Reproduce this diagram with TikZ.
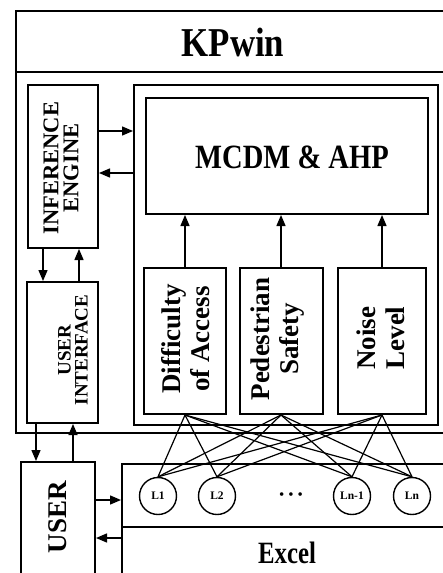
\documentclass[tikz,border=0pt]{standalone}
\usepackage{fontspec}
\setmainfont{Liberation Serif}
\usepackage{graphicx}
\usetikzlibrary{arrows.meta}
\tikzset{
  box/.style={draw, line width=2pt, inner sep=0pt, anchor=center},
  frame/.style={line width=2pt},
  arr/.style={line width=1.4pt, -{Triangle[length=11pt,width=9pt]}},
  link/.style={line width=1.2pt},
  lcirc/.style={draw, circle, line width=1.4pt, minimum size=37pt, inner sep=0pt, font=\bfseries\fontsize{11.5}{11.5}\selectfont},
  rtext/.style={rotate=90, align=center, inner sep=0pt},
}
\begin{document}
\begin{tikzpicture}[x=1pt,y=-1pt]
\clip (0,0) rectangle (443,573);
\fill[white] (0,0) rectangle (443,573);

% KPwin frame
\node[box, minimum width=444pt, minimum height=422pt] (kp) at (238,222) {};
\draw[frame] (kp.west |- 0,72) -- (kp.east |- 0,72);
\node (kpt) at (233,42) {\scalebox{0.85}[1]{\bfseries\fontsize{41}{41}\selectfont KPwin}};

% inference engine and user interface
\node[box, minimum width=70pt, minimum height=163pt] (ie) at (63,166.5) {};
\node[rtext, font=\bfseries\fontsize{22.5}{20}\selectfont] (iet) at (61,168) {INFERENCE\\ENGINE};
\node[box, minimum width=71pt, minimum height=141pt] (ui) at (62.5,352.5) {};
\node[rtext, font=\bfseries\fontsize{19}{17}\selectfont] (uit) at (73,350) {USER\\INTERFACE};

% container, MCDM
\node[box, minimum width=304pt, minimum height=340pt] (cont) at (286,255) {};
\node[box, minimum width=282pt, minimum height=116pt] (mcdm) at (287,156) {};
\node (mcdmt) at (292,157) {\scalebox{0.84}[1]{\bfseries\fontsize{34}{34}\selectfont MCDM \& AHP}};

% criteria
\node[box, minimum width=82pt, minimum height=146pt] (diff) at (185,341) {};
\node[box, minimum width=83pt, minimum height=146pt] (ped) at (281,341) {};
\node[box, minimum width=88pt, minimum height=146pt] (noise) at (382,341) {};
\node[rtext, font=\bfseries\fontsize{27}{29}\selectfont] (difft) at (186,339) {Difficulty\\of Access};
\node[rtext, font=\bfseries\fontsize{27}{29}\selectfont] (pedt) at (278,339) {Pedestrian\\Safety};
\node[rtext, font=\bfseries\fontsize{27}{29}\selectfont] (noiset) at (381,338) {Noise\\Level};

\draw[arr] (diff.north) -- (diff.north |- mcdm.south);
\draw[arr] (ped.north) -- (ped.north |- mcdm.south);
\draw[arr] (noise.north) -- (noise.north |- mcdm.south);

\draw[arr] (ie.east |- 0,131) -- (cont.west |- 0,131);
\draw[arr] (cont.west |- 0,173) -- (ie.east |- 0,173);
\draw[arr] (ie.south -| 43,0) -- (ui.north -| 43,0);
\draw[arr] (ui.north -| 79,0) -- (ie.south -| 79,0);

% user
\node[box, minimum width=74pt, minimum height=148pt] (user) at (58,536) {};
\node[rtext, font=\bfseries\fontsize{27}{27}\selectfont] (usert) at (58,517) {USER};
\draw[arr] (ui.south -| 36,0) -- (user.north -| 36,0);
\draw[arr] (user.north -| 73,0) -- (ui.south -| 73,0);

% excel
\node[box, minimum width=348pt, minimum height=146pt] (xl) at (296,537) {};
\draw[frame] (xl.west |- 0,527) -- (xl.east |- 0,527);
\node (xlt) at (287,553) {\scalebox{0.8}[1]{\bfseries\fontsize{31}{31}\selectfont Excel}};
\draw[arr] (user.east |- 0,500) -- (xl.west |- 0,500);
\draw[arr] (xl.west |- 0,538) -- (user.east |- 0,538);

% layers
\node[lcirc] (l1) at (158,496) {L1};
\node[lcirc] (l2) at (217,496) {L2};
\node[lcirc] (ln1) at (352,496) {Ln-1};
\node[lcirc] (ln) at (412,496) {Ln};
\node[font=\fontsize{15}{15}\selectfont] (dots) at (291,496) {\textbullet\hspace{4pt}\textbullet\hspace{4pt}\textbullet};

\foreach \c in {diff,ped,noise}
  \foreach \l in {l1,l2,ln1,ln}
    \draw[link] (\c.south) -- (\l.north);
\end{tikzpicture}
\end{document}
